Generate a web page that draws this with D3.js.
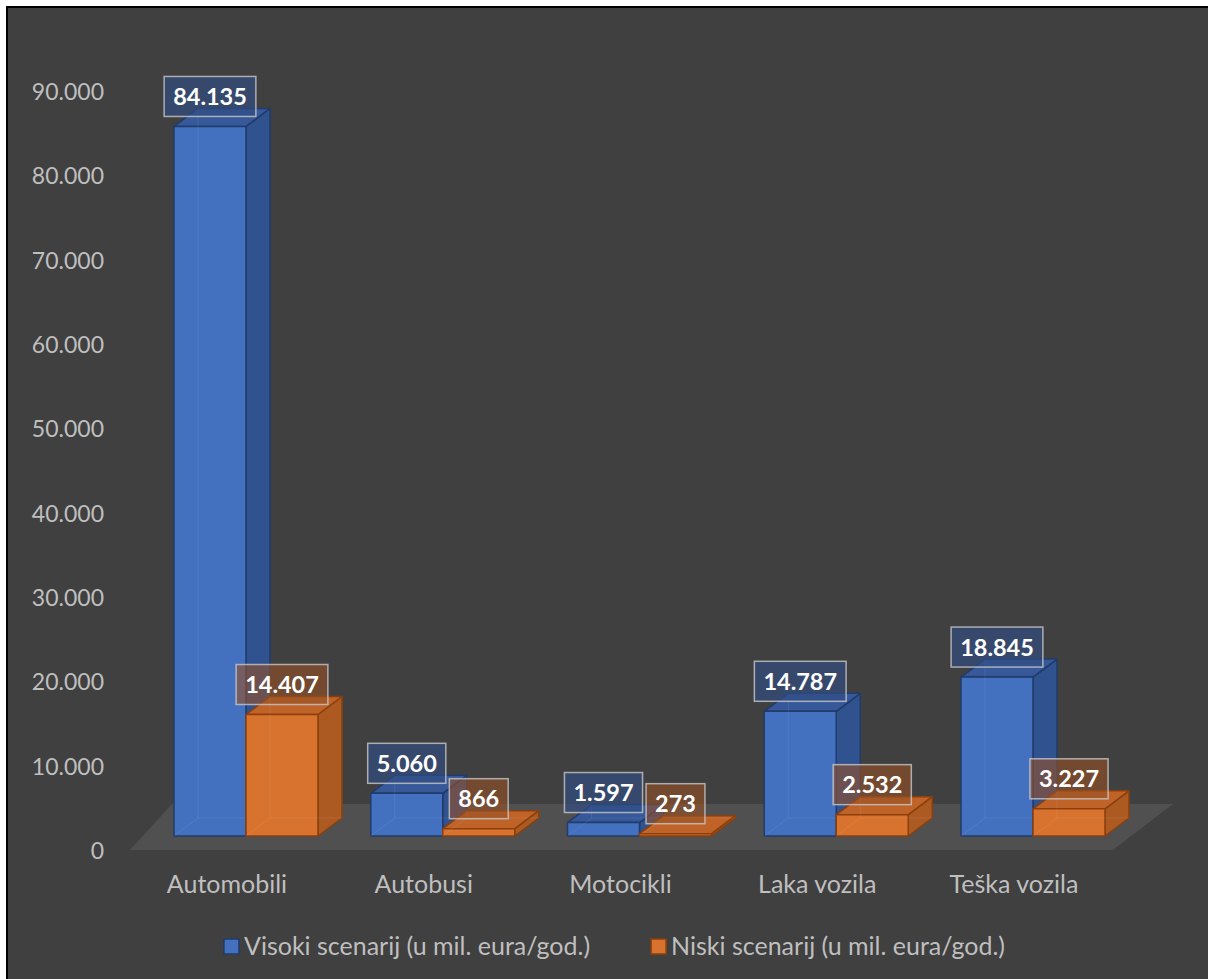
<!DOCTYPE html>
<html><head><meta charset="utf-8">
<script src="https://cdn.jsdelivr.net/npm/d3@7"></script>
<style>
html,body{margin:0;padding:0;background:#fff;}
svg{display:block;}
text{font-family:Lato, "Noto Sans", sans-serif;}
</style></head>
<body>
<svg id="chart" width="1208" height="979"></svg>
<script>
const categories = ["Automobili","Autobusi","Motocikli","Laka vozila","Teška vozila"];
const visoki = [84135, 5060, 1597, 14787, 18845];
const niski = [14407, 866, 273, 2532, 3227];
const yTicks = [0,10000,20000,30000,40000,50000,60000,70000,80000,90000];
const seriesNames = ["Visoki scenarij (u mil. eura/god.)","Niski scenarij (u mil. eura/god.)"];

const loc = d3.formatLocale({decimal:",", thousands:".", grouping:[3], currency:["","€"]});
const fmt = loc.format(",d");

const svg = d3.select("#chart");
svg.append("rect").attr("x",7).attr("y",7).attr("width",1230).attr("height",1000)
  .attr("fill","#404040").attr("stroke","#000").attr("stroke-width",2);

const y = d3.scaleLinear().domain([0,90000]).range([850,91]);
const xc = d3.scalePoint().domain(categories).range([246,1033]);
const xs = d3.scaleBand().domain(["v","n"]).range([-72,72]);
const setBack = 14, dx = 24, dy = -18;

const series = [
  {key:"v", vals:visoki, front:"#4370bf", side:"#30528f", top:"#37599a", stroke:"#213b6a", box:"rgba(48,78,130,0.66)"},
  {key:"n", vals:niski, front:"#d8722f", side:"#ad5a22", top:"#bf6328", stroke:"#8a3f0d", box:"rgba(150,82,38,0.6)"}
];

// floor
const y0 = y(0);
const fx0 = xc(categories[0]), fx1 = xc(categories[categories.length-1]);
svg.append("polygon")
  .attr("points",[[fx0-116,y0],[fx1+80,y0],[fx1+140,y0-46],[fx0-74,y0-46]].map(p=>p.join(",")).join(" "))
  .attr("fill","#505050");

// y axis labels
svg.append("g").selectAll("text").data(yTicks).join("text")
  .attr("x",104).attr("y",d=>y(d)+9)
  .attr("text-anchor","end").attr("fill","#bfbfbf").attr("font-size",23)
  .text(d=>fmt(d));

// category labels
svg.append("g").selectAll("text").data(categories).join("text")
  .attr("x",d=>xc(d)-19).attr("y",893)
  .attr("text-anchor","middle").attr("fill","#bfbfbf").attr("font-size",25)
  .text(d=>d);

// bars
const barsG = svg.append("g");
categories.forEach((c,i)=>{
  series.forEach(s=>{
    const v = s.vals[i];
    const x = xc(c)+xs(s.key), w = xs.bandwidth();
    const bot = y(0)-setBack, top = y(v)-setBack;
    const g = barsG.append("g").attr("stroke",s.stroke).attr("stroke-width",1.5).attr("stroke-linejoin","round");
    g.append("polygon").attr("points",[[x+w,bot],[x+w+dx,bot+dy],[x+w+dx,top+dy],[x+w,top]].map(p=>p.join(",")).join(" "))
      .attr("fill",s.side);
    g.append("polygon").attr("points",[[x,top],[x+dx,top+dy],[x+w+dx,top+dy],[x+w,top]].map(p=>p.join(",")).join(" "))
      .attr("fill",s.top);
    g.append("rect").attr("x",x).attr("y",top).attr("width",w).attr("height",bot-top).attr("fill",s.front);
    g.append("path").attr("d",`M${x+dx},${bot+dy}V${top+dy}M${x+dx},${bot+dy}H${x+w+dx}M${x+dx},${bot+dy}L${x},${bot}`)
      .attr("fill","none").attr("stroke","#ffffff").attr("stroke-opacity",0.08).attr("stroke-width",1);
  });
});

// data labels
const labG = svg.append("g");
categories.forEach((c,i)=>{
  series.forEach(s=>{
    const v = s.vals[i];
    const cx = xc(c)+xs(s.key)+xs.bandwidth()/2;
    const cy = y(v)-setBack-30;
    const g = labG.append("g");
    const r = g.append("rect");
    const t = g.append("text").attr("x",cx).attr("y",cy+8.5).attr("text-anchor","middle")
      .attr("fill","#ffffff").attr("font-weight","bold").attr("font-size",23.5).text(fmt(v));
    const tw = t.node().getComputedTextLength();
    r.attr("x",cx-tw/2-9).attr("y",cy-20).attr("width",tw+18).attr("height",40)
      .attr("fill",s.box).attr("stroke","#c8c8c8").attr("stroke-opacity",0.8).attr("stroke-width",1.5);
  });
});

// legend
const leg = svg.append("g");
let cursor = 0;
seriesNames.forEach((n,i)=>{
  const g = leg.append("g");
  g.append("rect").attr("x",cursor+1).attr("y",939).attr("width",15).attr("height",15)
    .attr("fill",series[i].front).attr("stroke",series[i].stroke).attr("stroke-width",1.5);
  const t = g.append("text").attr("x",cursor+21).attr("y",955).attr("fill","#bfbfbf").attr("font-size",25).text(n);
  const w = 21 + t.node().getComputedTextLength();
  cursor += w + 60;
});
const total = cursor - 60;
leg.attr("transform",`translate(${614 - total/2},0)`);
</script>
</body></html>
